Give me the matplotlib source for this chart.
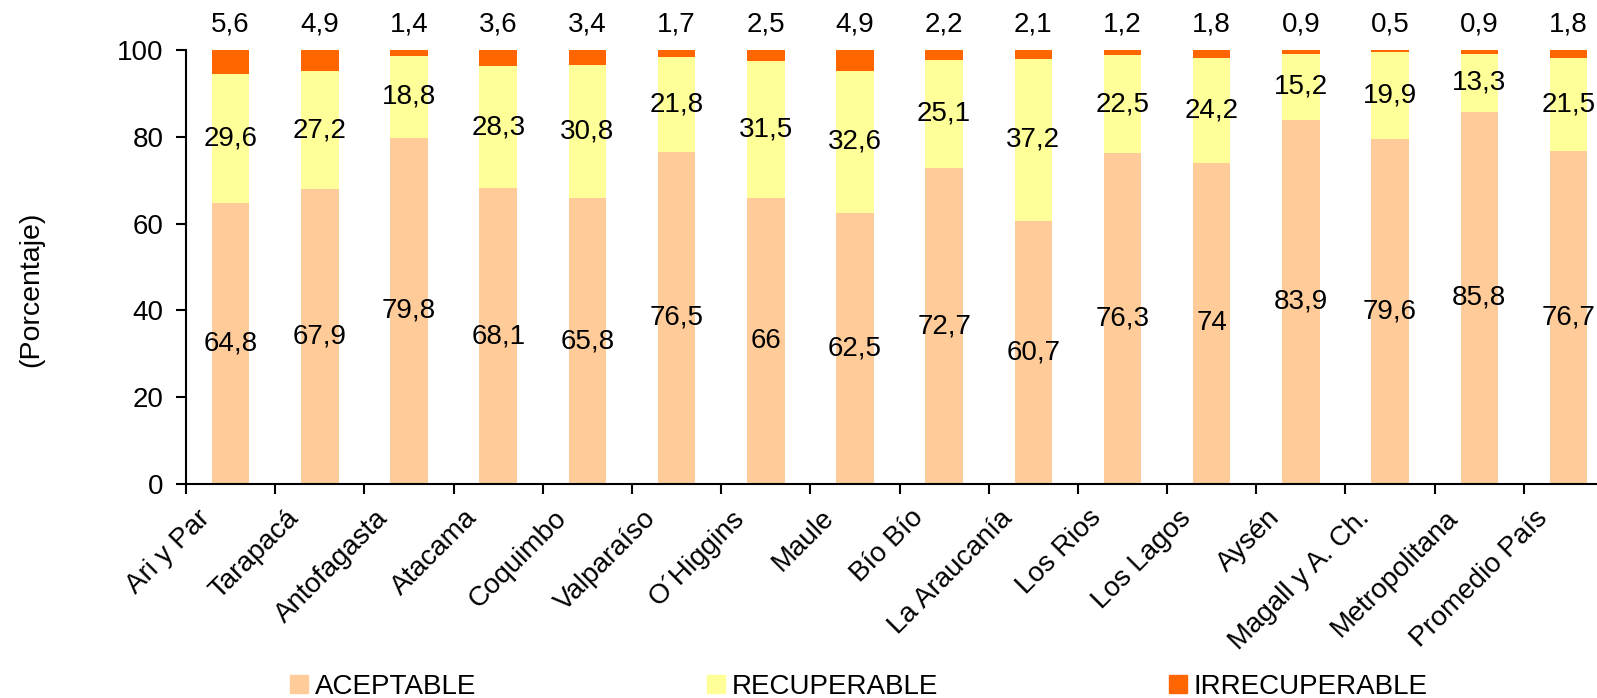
import numpy as np
import matplotlib.pyplot as plt
from matplotlib.patches import Patch
from matplotlib.transforms import ScaledTranslation, blended_transform_factory

plt.rcParams['font.family'] = ['Liberation Sans', 'DejaVu Sans']

regiones = ['Ari y Par', 'Tarapacá', 'Antofagasta', 'Atacama', 'Coquimbo',
            'Valparaíso', 'O´Higgins', 'Maule', 'Bío Bío', 'La Araucanía',
            'Los Rios', 'Los Lagos', 'Aysén', 'Magall y A. Ch.',
            'Metropolitana', 'Promedio País']
aceptable = [64.8, 67.9, 79.8, 68.1, 65.8, 76.5, 66, 62.5, 72.7, 60.7,
             76.3, 74, 83.9, 79.6, 85.8, 76.7]
recuperable = [29.6, 27.2, 18.8, 28.3, 30.8, 21.8, 31.5, 32.6, 25.1, 37.2,
               22.5, 24.2, 15.2, 19.9, 13.3, 21.5]
irrecuperable = [5.6, 4.9, 1.4, 3.6, 3.4, 1.7, 2.5, 4.9, 2.2, 2.1,
                 1.2, 1.8, 0.9, 0.5, 0.9, 1.8]

c_acep = '#FFCC99'
c_recu = '#FFFF99'
c_irre = '#FF6600'

def fmt(v):
    s = ('%.1f' % v).rstrip('0').rstrip('.')
    return s.replace('.', ',')

fig = plt.figure(figsize=(15.97, 6.98), dpi=100)
ax = fig.add_axes([0.1165, 0.3066, 0.8835, 0.6218])

x = np.arange(len(regiones))
a = np.array(aceptable)
r = np.array(recuperable)
i = np.array(irrecuperable)
w = 0.42
ax.bar(x, a, w, color=c_acep)
ax.bar(x, r, w, bottom=a, color=c_recu)
ax.bar(x, i, w, bottom=a + r, color=c_irre)

fs = 20
for k in range(len(x)):
    ax.text(x[k], a[k] / 2, fmt(a[k]), ha='center', va='center', fontsize=fs)
    ax.text(x[k], a[k] + r[k] / 2, fmt(r[k]), ha='center', va='center', fontsize=fs)
    ax.text(x[k], 105.8, fmt(i[k]), ha='center', va='center', fontsize=fs,
            clip_on=False)

ax.set_xlim(-0.5, 15.32)
ax.set_ylim(0, 100)
ax.set_yticks(np.arange(0, 101, 20))
ax.set_xticks(x - 0.5)
ax.set_xticklabels([])

# category names, rotated and ending a bit left of each bar centre
trans = blended_transform_factory(ax.transData, ax.transAxes)
trans = trans + ScaledTranslation(-0.34, -0.21, fig.dpi_scale_trans)
for k in range(len(x)):
    ax.text(x[k], 0, regiones[k], transform=trans, rotation=45, ha='right',
            va='top', rotation_mode='anchor', fontsize=fs, clip_on=False)

ax.tick_params(axis='x', length=7, width=1.5, direction='out')
ax.tick_params(axis='y', length=7, width=1.5, direction='out', labelsize=fs, pad=9)

for s in ['top', 'right']:
    ax.spines[s].set_visible(False)
for s in ['left', 'bottom']:
    ax.spines[s].set_linewidth(1.5)

ax.set_ylabel('(Porcentaje)', fontsize=20.5)
ax.yaxis.set_label_coords(-0.1006, 0.449)

handles = [Patch(color=c_acep), Patch(color=c_recu), Patch(color=c_irre)]
fig.legend(handles, ['ACEPTABLE', 'RECUPERABLE', 'IRRECUPERABLE'],
           loc='center left', bbox_to_anchor=(0.1816, 0.016), ncol=3,
           frameon=False, fontsize=fs, handlelength=0.65, handleheight=0.65,
           handletextpad=0.25, columnspacing=8.3, borderpad=0,
           borderaxespad=0)

fig.savefig('out.png', dpi=100)
